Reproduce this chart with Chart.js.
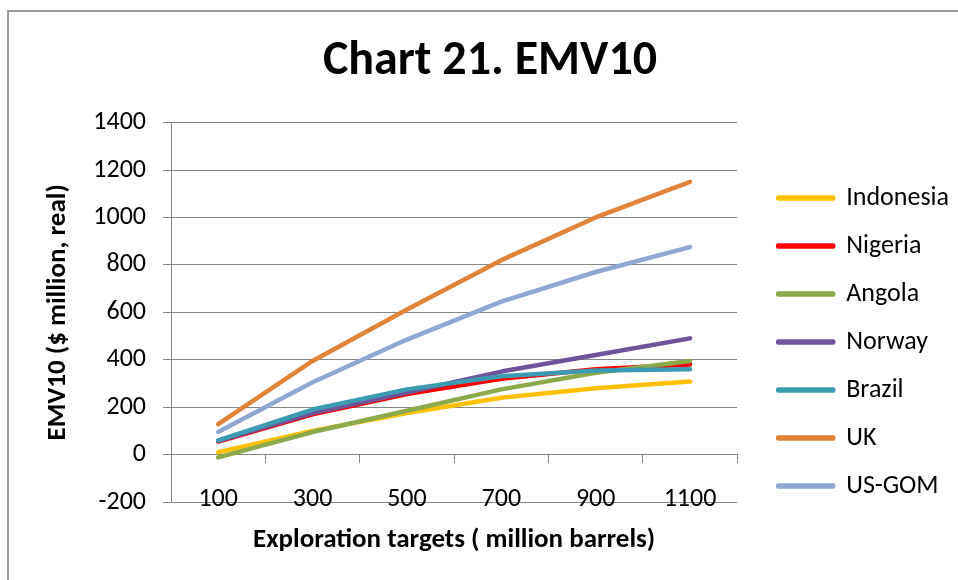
<!DOCTYPE html>
<html>
<head>
<meta charset="utf-8">
<script src="https://cdn.jsdelivr.net/npm/chart.js@4/dist/chart.umd.min.js"></script>
<style>
  html, body { margin: 0; padding: 0; background: #fff; overflow: hidden; }
  #wrap { position: relative; width: 958px; height: 580px; }
  #frame { position: absolute; left: 7px; top: 10px; width: 1000px; height: 1000px; border: 2px solid #9a9a9a; box-sizing: border-box; }
  #emv { position: absolute; left: 0; top: 0; }
</style>
</head>
<body>
<div id="wrap">
  <div id="frame"></div>
  <canvas id="emv" width="958" height="580"></canvas>
</div>
<script>
/* Chart 21. EMV10 — line chart, EMV10 by exploration target size */

const targets   = ['100', '300', '500', '700', '900', '1100'];
const yTicks    = [-200, 1400, 200];   // min, max, step

const indonesia = [10, 100, 175, 240, 280, 308];
const nigeria   = [55, 170, 255, 320, 360, 380];
const angola    = [-12, 95, 185, 275, 345, 395];
const norway    = [58, 175, 262, 350, 420, 490];
const brazil    = [60, 190, 275, 330, 355, 360];
const uk        = [128, 395, 612, 820, 1000, 1150];
const usGom     = [95, 305, 485, 645, 770, 875];

const FONT = 'Carlito, Lato, "Open Sans", sans-serif';
const GRID = '#868686';

const series = [
  { label: 'Indonesia', data: indonesia, color: '#FFC000' },
  { label: 'Nigeria',   data: nigeria,   color: '#FF0000' },
  { label: 'Angola',    data: angola,    color: '#8AAA4B' },
  { label: 'Norway',    data: norway,    color: '#70549A' },
  { label: 'Brazil',    data: brazil,    color: '#3C9AB2' },
  { label: 'UK',        data: uk,        color: '#E0843A' },
  { label: 'US-GOM',    data: usGom,     color: '#8EA8D2' },
];

// later series sit on top, like the spreadsheet original
const datasets = series.map((s, i) => ({
  label: s.label,
  data: s.data,
  xAxisID: 'x',
  yAxisID: 'y',
  borderColor: s.color,
  backgroundColor: s.color,
  borderWidth: 4.5,
  borderCapStyle: 'round',
  borderJoinStyle: 'round',
  pointRadius: 0,
  tension: 0,
  order: series.length - i,
}));

// hidden scale used only to reserve room in the layout
const spacer = (position, size) => ({
  type: 'linear',
  position,
  display: false,
  afterFit: s => { if (s.isHorizontal()) s.height = size; else s.width = size; },
});

new Chart(document.getElementById('emv'), {
  type: 'line',
  data: { labels: targets, datasets },
  options: {
    responsive: false,
    animation: false,
    layout: { padding: { left: 21, right: -1, top: 0, bottom: 0 } },
    plugins: {
      tooltip: { enabled: false },
      title: {
        display: true,
        text: 'Chart 21. EMV10',
        color: '#000',
        font: { family: FONT, size: 48, weight: 'bold' },
        padding: { top: 33, bottom: 32 },
      },
      legend: {
        position: 'right',
        align: 'center',
        title: { display: true, text: '', font: { size: 10 }, padding: { top: 0, bottom: 92 } },
        labels: {
          color: '#000',
          font: { family: FONT, size: 26 },
          boxWidth: 55,
          boxHeight: 1,
          padding: 22,
          sort: (a, b) => a.datasetIndex - b.datasetIndex,
        },
      },
    },
    scales: {
      x: {
        type: 'category',
        position: { y: 0 },
        offset: true,
        afterFit: s => { s.height = 102; },
        grid: { offset: true, drawOnChartArea: false, tickLength: 8, color: GRID },
        border: { display: true, color: GRID },
        ticks: { color: '#000', padding: 21, font: { family: FONT, size: 26 }, maxRotation: 0 },
        title: {
          display: true,
          text: 'Exploration targets ( million barrels)',
          color: '#000',
          font: { family: FONT, size: 27, weight: 'bold' },
          padding: { top: 0, bottom: 0 },
        },
      },
      y: {
        min: yTicks[0],
        max: yTicks[1],
        afterFit: s => { s.width = 150; },
        grid: { color: GRID, tickLength: 8 },
        border: { display: true, color: GRID },
        ticks: {
          stepSize: yTicks[2],
          color: '#000',
          padding: 17,
          font: { family: FONT, size: 26 },
          callback: v => String(v),
        },
        title: {
          display: true,
          text: 'EMV10 ($ million, real)',
          color: '#000',
          font: { family: FONT, size: 27, weight: 'bold' },
          padding: { top: 21, bottom: 0 },
        },
      },
      yr: spacer('right', 19),
      xb: spacer('bottom', 78),
    },
  },
});
</script>
</body>
</html>
